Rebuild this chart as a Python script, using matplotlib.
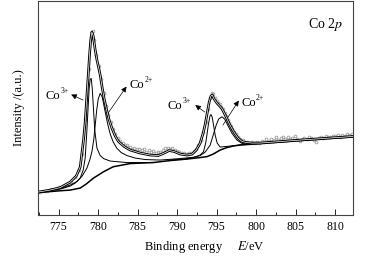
import matplotlib
matplotlib.use("Agg")
import matplotlib.pyplot as plt
import matplotlib.patheffects as pe
from matplotlib.ticker import MultipleLocator

plt.rcParams['font.family'] = ['Liberation Serif', 'DejaVu Serif']
plt.rcParams['mathtext.fontset'] = 'stix'

# fitted envelope
env_x = [772.43, 773.95, 775.22, 776.48, 777.24, 777.74, 778.16, 778.37, 778.59, 778.76,
         778.92, 779.07, 779.22, 779.39, 779.64, 779.86, 780.06, 780.27, 780.49, 780.78,
         781.12, 781.41, 781.75, 782.17, 782.59, 783.31, 784.07, 785.33, 786.60, 787.61,
         788.37, 789.00, 789.63, 790.39, 791.24, 791.91, 792.42, 792.92, 793.30, 793.56,
         793.81, 794.06, 794.28, 794.44, 794.69, 795.04, 795.33, 795.67, 795.96, 796.30,
         796.59, 796.93, 797.35, 797.77, 798.24, 798.83, 799.50, 800.51, 805.57, 812.28]
env_y = [23, 25, 27.5, 33, 39, 48, 75, 93, 120, 140,
         160, 175, 183, 179, 165, 155, 148, 140, 129, 116,
         104, 95, 87, 79, 73.5, 68.5, 65, 62, 60, 59.5,
         62, 64.5, 63.5, 61, 60, 61, 65, 72, 82, 91,
         102, 113, 119, 120, 116, 112, 109.5, 106.5, 102, 96.5,
         91.5, 86.5, 81, 76.5, 73.5, 72.5, 72, 72, 75.0, 78.6]

# Shirley background
bg_x = [772.43, 775.22, 776.48, 777.74, 778.50, 779.43, 780.69, 781.92, 784.07, 786.98,
        789.13, 791.24, 792.92, 793.81, 794.57, 795.45, 796.30, 797.09, 797.98, 799.63,
        800.51, 805.57, 812.28]
bg_y = [22.5, 24.3, 25, 27, 31, 37, 43.3, 48.3, 51.5, 52.5,
        54.5, 56, 57.5, 58.5, 61, 65, 67.5, 69, 70, 71,
        71.5, 74.5, 78.3]

# Co3+ 2p3/2 component
co3a_x = [772.43, 775.22, 776.48, 777.11, 777.74, 778.12, 778.37, 778.59, 778.76, 778.88,
          779.01, 779.14, 779.26, 779.43, 779.58, 779.86, 780.27, 780.69, 781.54, 783.65,
          786.98]
co3a_y = [22.5, 26, 29, 32, 37, 45, 57, 85, 110, 127,
          136, 136.5, 127, 105, 85, 67, 59.5, 56.5, 54, 52.5,
          52.5]

# Co2+ 2p3/2 component
co2a_x = [772.43, 775.22, 776.48, 777.33, 777.99, 778.59, 778.95, 779.22, 779.45, 779.64,
          779.83, 780.02, 780.27, 780.53, 780.91, 781.22, 781.54, 781.92, 782.39, 782.93,
          783.65, 784.70, 785.97, 787.87, 790.39, 791.66]
co2a_y = [22.5, 26.5, 30, 33.5, 39, 47, 55, 63.3, 75, 90,
          105, 116, 121.7, 118, 103, 91, 81, 73, 66.7, 62.5,
          59.5, 57, 55.5, 55, 56.5, 57.5]

# Co3+ 2p1/2 component
co3b_x = [789.13, 791.02, 792.29, 792.92, 793.34, 793.62, 793.77, 793.97, 794.16, 794.28,
          794.44, 794.63, 794.82, 795.07, 795.45, 796.09, 796.72, 797.98, 799.63]
co3b_y = [55, 56, 58, 60, 63.3, 72, 80, 91, 99, 100.5,
          98, 89, 80, 72, 68, 68.5, 69, 70.2, 71.2]

# Co2+ 2p1/2 component
co2b_x = [791.24, 792.92, 793.56, 794.19, 794.57, 794.95, 795.26, 795.67, 796.02, 796.46,
          796.97, 797.57, 798.24, 799.25, 800.51]
co2b_y = [56.3, 59.5, 63, 70, 80, 90, 96, 98.3, 96, 89,
          81.5, 75, 71.5, 70.7, 71.7]

# measured points
data_x = [772.6, 773.1, 773.6, 774.1, 774.6, 775.1, 775.6, 776.1, 776.6, 777.1,
          777.6, 778.0, 778.4, 778.8, 779.1, 779.3, 779.5, 779.8, 780.1, 780.4,
          780.7, 781.0, 781.3, 781.6, 781.9, 782.2, 782.5, 782.8, 783.1, 783.4,
          783.7, 784.0, 784.3, 784.6, 784.9, 785.2, 785.5, 785.8, 786.1, 786.4,
          786.7, 787.0, 787.3, 787.6, 787.9, 788.2, 788.5, 788.8, 789.1, 789.4,
          789.7, 790.0, 790.3, 790.6, 790.9, 791.2, 791.5, 791.8, 792.1, 792.4,
          792.7, 793.0, 793.3, 793.6, 793.9, 794.2, 794.4, 794.6, 794.8, 795.0,
          795.2, 795.4, 795.6, 795.8, 796.0, 796.2, 796.4, 796.6, 796.8, 797.0,
          797.2, 797.4, 797.7, 798.0, 798.3, 798.6, 798.9, 799.2, 799.5, 799.8,
          800.1, 800.4, 800.7, 801.0, 801.3, 801.6, 801.9, 802.2, 802.5, 802.8,
          803.1, 803.4, 803.7, 804.0, 804.3, 804.6, 804.9, 805.2, 805.5, 805.8,
          806.1, 806.4, 806.7, 807.0, 807.3, 807.6, 807.9, 808.2, 808.5, 808.8,
          809.1, 809.4, 809.7, 810.0, 810.3, 810.6, 810.9, 811.2, 811.5, 811.8,
          812.1]
data_y = [22.8, 24.5, 23.9, 25.6, 26.4, 27.9, 28.6, 31.2, 33.5, 37.9,
          45.5, 61, 96, 146, 178, 184, 175, 160, 149, 136,
          122, 109, 100, 93, 86, 81, 77.5, 74, 72.5, 70.5,
          69.8, 68, 66.5, 67.2, 65.6, 66.4, 64.8, 66.2, 63.5, 65.1,
          62.8, 64.2, 61.9, 62.6, 63.4, 65, 66.6, 67.3, 66.5, 67.2,
          65.4, 64, 63.1, 61.6, 62.3, 60.8, 61.7, 62, 63.6, 66.2,
          70, 75, 83, 93, 106, 117, 122, 121, 117, 114,
          112.5, 110.8, 108.5, 105.7, 102.5, 99.5, 95.5, 92.5, 89.5, 86.5,
          83.5, 81.5, 78, 75.8, 74.6, 72.5, 73.4, 71.8, 72.9, 71.6,
          73.5, 72.4, 74.1, 73.2, 75.8, 74.3, 76.4, 75.1, 77.6, 75.4,
          76.9, 78.5, 76.2, 77.8, 75.9, 76.8, 78.8, 76.4, 74.3, 76.1,
          77.4, 76.0, 78.2, 76.7, 75.2, 72.8, 77.3, 78.4, 77.2, 79.0,
          78.1, 77.6, 79.4, 78.6, 79.9, 78.5, 80.1, 79.4, 80.6, 79.9,
          80.8]

# peak labels: ion charge, text position, arrow tail, arrow head
label_charge = ["3+", "2+", "3+", "2+"]
label_pos = [(773.4, 119), (784.0, 130), (788.8, 109), (798.1, 112)]
arrow_tail = [(778.1, 115), (781.1, 100), (793.5, 103), (795.8, 90)]
arrow_head = [(776.6, 120.5), (783.6, 128.5), (792.3, 110), (797.8, 114.5)]

fig = plt.figure(figsize=(3.71, 2.61), dpi=100)
ax = fig.add_axes([0.1024, 0.176, 0.850, 0.820])

ax.plot(data_x, data_y, 'o', ms=2.0, mfc='none', mec='#9a9a9a', mew=0.6, zorder=1)
for xs, ys in [(co3a_x, co3a_y), (co2a_x, co2a_y), (co3b_x, co3b_y), (co2b_x, co2b_y)]:
    ax.plot(xs, ys, color='black', lw=0.7, zorder=2)
ax.plot(bg_x, bg_y, color='black', lw=1.1, zorder=3)
ax.plot(env_x, env_y, color='white', lw=0.5, zorder=4,
        path_effects=[pe.Stroke(linewidth=1.9, foreground='black'), pe.Normal()])

for q, (tx, ty), tail, head in zip(label_charge, label_pos, arrow_tail, arrow_head):
    t = ax.text(tx, ty, 'Co', fontsize=9, ha='left', va='center')
    ax.annotate(q, xy=(1.0, 0.62), xycoords=t, fontsize=5.5, ha='left', va='bottom')
    ax.annotate('', xy=head, xytext=tail,
                arrowprops=dict(arrowstyle='-|>', color='black', lw=0.5,
                                mutation_scale=8, shrinkA=0, shrinkB=0))

ax.text(0.857, 0.89, 'Co 2$p$', transform=ax.transAxes, fontsize=10, ha='left', va='center')

ax.set_xlim(772.4, 812.3)
ax.set_ylim(0, 214)
ax.xaxis.set_major_locator(MultipleLocator(5))
ax.xaxis.set_minor_locator(MultipleLocator(2.5))
ax.tick_params(axis='x', which='major', direction='in', length=4, width=0.6,
               labelsize=8.5, pad=4)
ax.tick_params(axis='x', which='minor', direction='in', length=2, width=0.6)
ax.set_yticks([])
for side in ax.spines.values():
    side.set_linewidth(0.8)
    side.set_color('#444444')

ax.set_ylabel('Intensity /(a.u.)', fontsize=9, labelpad=9)
fig.text(204 / 371, 1 - 247 / 261, 'Binding energy     $E$/eV', fontsize=9,
         ha='center', va='center')

fig.savefig('out.png', dpi=100)
